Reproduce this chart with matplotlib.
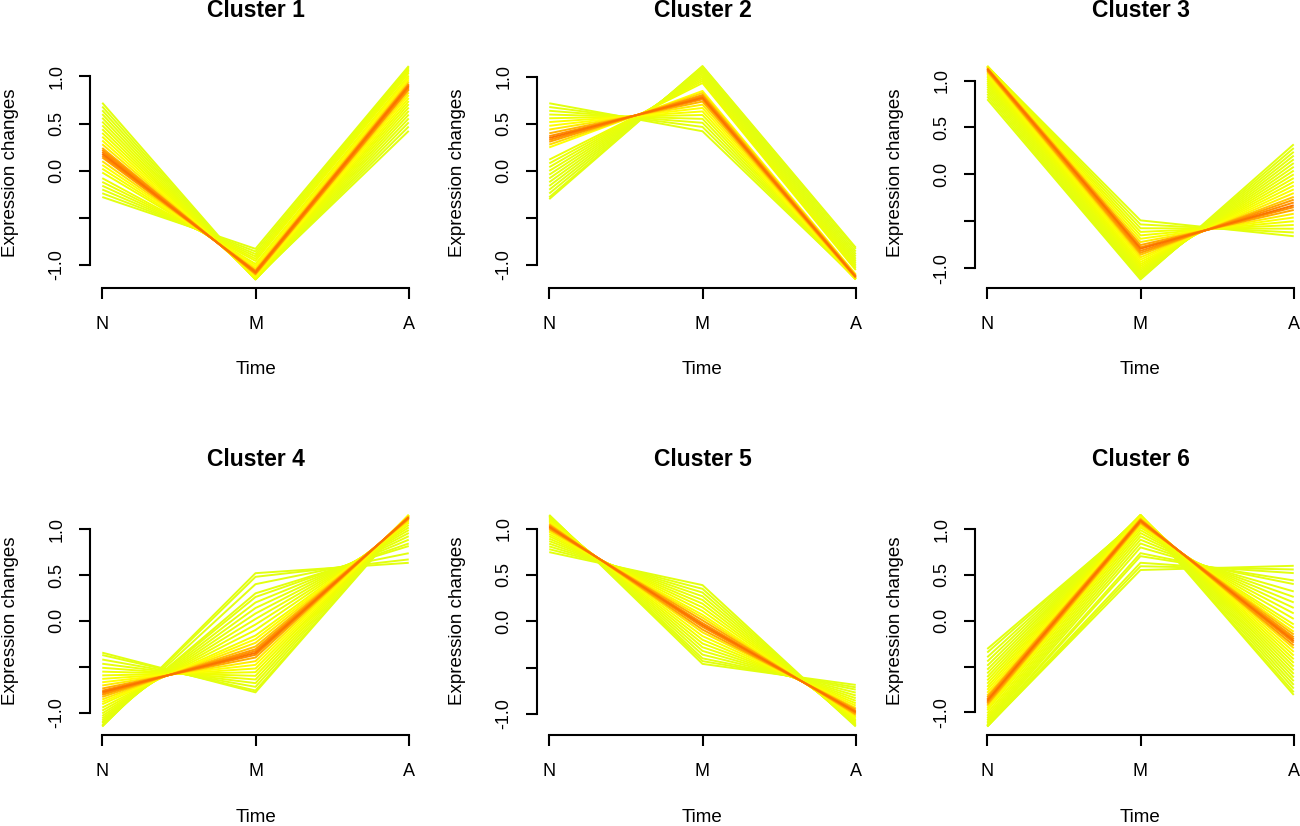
import matplotlib
matplotlib.use("Agg")
import matplotlib.pyplot as plt
from matplotlib.colors import LinearSegmentedColormap, Normalize
import numpy as np

plt.rcParams['font.family'] = ['Liberation Sans', 'DejaVu Sans']

time_labels = ['N', 'M', 'A']
cluster_titles = ['Cluster 1', 'Cluster 2', 'Cluster 3', 'Cluster 4', 'Cluster 5', 'Cluster 6']
y_ticks = [-1.0, -0.5, 0.0, 0.5, 1.0]
y_tick_labels = ['-1.0', '', '0.0', '0.5', '1.0']

# ---- Cluster 1 ----
c1_N = [-0.28, -0.24, -0.20, -0.16, -0.12, -0.08, -0.02, 0.02, 0.06, 0.10, 0.14, 0.16, 0.18, 0.20,
        0.22, 0.24, 0.28, 0.32, 0.36, 0.40, 0.44, 0.48, 0.52, 0.56, 0.60, 0.64, 0.68, 0.72]
c1_M = [-0.830, -0.858, -0.885, -0.910, -0.935, -0.958, -0.990, -1.010, -1.029, -1.046, -1.063, -1.070,
        -1.078, -1.085, -1.092, -1.098, -1.110, -1.121, -1.130, -1.138, -1.145, -1.150, -1.153, -1.155,
        -1.154, -1.152, -1.148, -1.142]
c1_A = [1.110, 1.098, 1.085, 1.070, 1.055, 1.038, 1.010, 0.990, 0.969, 0.946, 0.923, 0.910, 0.898, 0.885,
        0.872, 0.858, 0.830, 0.801, 0.770, 0.738, 0.705, 0.670, 0.633, 0.595, 0.554, 0.512, 0.468, 0.422]
c1_mem = [0.30, 0.32, 0.35, 0.38, 0.40, 0.42, 0.45, 0.50, 0.55, 0.65, 0.85, 0.93, 1.00, 0.95,
          0.90, 0.80, 0.62, 0.55, 0.50, 0.45, 0.42, 0.40, 0.38, 0.36, 0.34, 0.32, 0.30, 0.30]

# ---- Cluster 2 ----
c2_N = [0.72, 0.68, 0.64, 0.60, 0.56, 0.52, 0.48, 0.44, 0.40, 0.37, 0.35, 0.33, 0.31, 0.28,
        0.25, 0.12, 0.08, 0.04, 0.00, -0.04, -0.08, -0.12, -0.16, -0.20, -0.24, -0.28, -0.30]
c2_M = [0.422, 0.468, 0.512, 0.554, 0.595, 0.633, 0.670, 0.705, 0.738, 0.762, 0.778, 0.793, 0.808, 0.830,
        0.851, 0.935, 0.958, 0.979, 1.000, 1.019, 1.038, 1.055, 1.070, 1.085, 1.098, 1.110, 1.116]
c2_A = [-1.142, -1.148, -1.152, -1.154, -1.155, -1.153, -1.150, -1.145, -1.138, -1.132, -1.128, -1.123,
        -1.118, -1.110, -1.101, -1.055, -1.038, -1.019, -1.000, -0.979, -0.958, -0.935, -0.910, -0.885,
        -0.858, -0.830, -0.816]
c2_mem = [0.30, 0.32, 0.35, 0.38, 0.42, 0.50, 0.55, 0.62, 0.78, 0.92, 1.00, 0.93, 0.85, 0.68,
          0.55, 0.40, 0.38, 0.36, 0.35, 0.34, 0.33, 0.32, 0.31, 0.30, 0.30, 0.30, 0.30]

# ---- Cluster 3 ----
c3_N = [0.801, 0.830, 0.858, 0.885, 0.910, 0.935, 0.958, 0.979, 1.000, 1.019, 1.038, 1.055, 1.070, 1.085,
        1.098, 1.107, 1.116, 1.123, 1.128, 1.134, 1.142, 1.147, 1.151, 1.154, 1.155, 1.154, 1.151]
c3_M = [-1.121, -1.110, -1.098, -1.085, -1.070, -1.055, -1.038, -1.019, -1.000, -0.979, -0.958, -0.935,
        -0.910, -0.885, -0.858, -0.837, -0.816, -0.793, -0.778, -0.754, -0.722, -0.687, -0.651, -0.614,
        -0.575, -0.534, -0.491]
c3_A = [0.32, 0.28, 0.24, 0.20, 0.16, 0.12, 0.08, 0.04, 0.00, -0.04, -0.08, -0.12, -0.16, -0.20,
        -0.24, -0.27, -0.30, -0.33, -0.35, -0.38, -0.42, -0.46, -0.50, -0.54, -0.58, -0.62, -0.66]
c3_mem = [0.30, 0.30, 0.32, 0.33, 0.34, 0.35, 0.36, 0.38, 0.40, 0.42, 0.45, 0.48, 0.52, 0.60,
          0.72, 0.85, 0.93, 1.00, 0.92, 0.82, 0.62, 0.50, 0.45, 0.42, 0.38, 0.35, 0.30]

# ---- Cluster 4 ----
c4_N = [-1.153, -1.150, -1.138, -1.116, -1.104, -1.085, -1.063, -1.038, -1.010, -0.979, -0.946, -0.910,
        -0.885, -0.858, -0.830, -0.808, -0.793, -0.778, -0.762, -0.738, -0.705, -0.670, -0.633, -0.595,
        -0.554, -0.512, -0.468, -0.422, -0.373, -0.347]
c4_M = [0.52, 0.48, 0.40, 0.30, 0.26, 0.20, 0.14, 0.08, 0.02, -0.04, -0.10, -0.16, -0.20, -0.24, -0.28,
        -0.31, -0.33, -0.35, -0.37, -0.40, -0.44, -0.48, -0.52, -0.56, -0.60, -0.64, -0.68, -0.72, -0.76, -0.78]
c4_A = [0.633, 0.670, 0.738, 0.816, 0.844, 0.885, 0.923, 0.958, 0.990, 1.019, 1.046, 1.070, 1.085, 1.098,
        1.110, 1.118, 1.123, 1.128, 1.132, 1.138, 1.145, 1.150, 1.153, 1.155, 1.154, 1.152, 1.148, 1.142,
        1.133, 1.127]
c4_mem = [0.30, 0.30, 0.31, 0.32, 0.33, 0.34, 0.35, 0.36, 0.38, 0.40, 0.42, 0.48, 0.55, 0.62, 0.74,
          0.86, 0.93, 1.00, 0.95, 0.80, 0.62, 0.55, 0.50, 0.45, 0.42, 0.40, 0.36, 0.33, 0.30, 0.30]

# ---- Cluster 5 ----
c5_N = [0.746, 0.778, 0.808, 0.837, 0.865, 0.891, 0.917, 0.940, 0.963, 0.979, 0.995, 1.010, 1.019,
        1.029, 1.042, 1.055, 1.070, 1.085, 1.098, 1.110, 1.121, 1.130, 1.138, 1.143, 1.147]
c5_M = [0.39, 0.35, 0.31, 0.27, 0.23, 0.19, 0.15, 0.11, 0.07, 0.04, 0.01, -0.02, -0.04,
        -0.06, -0.09, -0.12, -0.16, -0.20, -0.24, -0.28, -0.32, -0.36, -0.40, -0.43, -0.46]
c5_A = [-1.136, -1.128, -1.118, -1.107, -1.095, -1.081, -1.067, -1.050, -1.033, -1.019, -1.005, -0.990,
        -0.979, -0.969, -0.952, -0.935, -0.910, -0.885, -0.858, -0.830, -0.801, -0.770, -0.738, -0.713, -0.687]
c5_mem = [0.30, 0.32, 0.34, 0.36, 0.38, 0.40, 0.43, 0.47, 0.52, 0.62, 0.80, 0.92, 1.00,
          0.93, 0.82, 0.64, 0.52, 0.46, 0.42, 0.39, 0.36, 0.34, 0.32, 0.30, 0.30]

# ---- Cluster 6 ----
c6_N = [-1.154, -1.155, -1.153, -1.145, -1.138, -1.121, -1.104, -1.085, -1.063, -1.038, -1.010, -0.979,
        -0.958, -0.935, -0.917, -0.898, -0.885, -0.872, -0.858, -0.837, -0.816, -0.786, -0.754, -0.722,
        -0.687, -0.651, -0.614, -0.575, -0.534, -0.491, -0.445, -0.398, -0.347, -0.308]
c6_M = [0.554, 0.595, 0.633, 0.705, 0.738, 0.801, 0.844, 0.885, 0.923, 0.958, 0.990, 1.019, 1.038, 1.055,
        1.067, 1.078, 1.085, 1.092, 1.098, 1.107, 1.116, 1.126, 1.134, 1.142, 1.147, 1.151, 1.154, 1.155,
        1.154, 1.151, 1.145, 1.138, 1.127, 1.118]
c6_A = [0.60, 0.56, 0.52, 0.44, 0.40, 0.32, 0.26, 0.20, 0.14, 0.08, 0.02, -0.04, -0.08, -0.12, -0.15,
        -0.18, -0.20, -0.22, -0.24, -0.27, -0.30, -0.34, -0.38, -0.42, -0.46, -0.50, -0.54, -0.58, -0.62,
        -0.66, -0.70, -0.74, -0.78, -0.81]
c6_mem = [0.30, 0.30, 0.31, 0.32, 0.33, 0.34, 0.35, 0.36, 0.38, 0.40, 0.42, 0.46, 0.50, 0.60, 0.75,
          0.86, 0.93, 1.00, 0.92, 0.84, 0.66, 0.56, 0.50, 0.46, 0.43, 0.40, 0.38, 0.36, 0.34, 0.33,
          0.32, 0.31, 0.30, 0.30]

clusters = [
    (c1_N, c1_M, c1_A, c1_mem),
    (c2_N, c2_M, c2_A, c2_mem),
    (c3_N, c3_M, c3_A, c3_mem),
    (c4_N, c4_M, c4_A, c4_mem),
    (c5_N, c5_M, c5_A, c5_mem),
    (c6_N, c6_M, c6_A, c6_mem),
]

mem_lo, mem_hi = 0.3, 1.0
color_stops = [(0.30, "#E2FF10"), (0.45, "#F2FF00"), (0.55, "#FFFF00"), (0.65, "#FFE400"),
               (0.75, "#FFBE00"), (0.85, "#FFA000"), (0.95, "#FF8A00"), (1.00, "#FA7400")]
cmap = LinearSegmentedColormap.from_list(
    'mfuzz', [((m - mem_lo) / (mem_hi - mem_lo), col) for m, col in color_stops])
norm = Normalize(mem_lo, mem_hi)

W, H = 1300, 826
fig = plt.figure(figsize=(W / 100, H / 100), dpi=100)
lefts = [90, 537, 975]
bottoms = [288, 735]
heights = [230.5, 228.5]
width = 331

for i, (N, M, A, mem) in enumerate(clusters):
    r, c = divmod(i, 3)
    h = heights[r]
    ax = fig.add_axes([lefts[c] / W, (H - bottoms[r]) / H, width / W, h / H])
    order = np.argsort(mem, kind='stable')
    for j in order:
        ax.plot([1, 2, 3], [N[j], M[j], A[j]], color=cmap(norm(mem[j])), lw=1.4,
                solid_capstyle='butt', solid_joinstyle='round')
    ax.margins(x=0.04, y=0.04)
    for s in ['top', 'right']:
        ax.spines[s].set_visible(False)
    ax.spines['left'].set_bounds(-1, 1)
    ax.spines['bottom'].set_bounds(1, 3)
    for s in ['left', 'bottom']:
        ax.spines[s].set_linewidth(1.5)
    ax.set_xticks([1, 2, 3], time_labels)
    ax.set_yticks(y_ticks, y_tick_labels)
    ax.tick_params(direction='out', length=8, width=1.5, labelsize=13)
    ax.tick_params(axis='x', pad=12)
    ax.tick_params(axis='y', pad=9.5)
    for lab in ax.get_yticklabels():
        lab.set_rotation(90)
        lab.set_va('center')
    ax.text(0.5, 1 + 47 / h, cluster_titles[i], transform=ax.transAxes, ha='center', va='center',
            fontsize=16.5, fontweight='bold')
    ax.text(0.5, -82 / h, 'Time', transform=ax.transAxes, ha='center', va='center', fontsize=13.5)
    ax.text(-79 / width, 0.5, 'Expression changes', transform=ax.transAxes, ha='center', va='center',
            rotation=90, fontsize=13.5)

fig.savefig('out.png', dpi=100)
